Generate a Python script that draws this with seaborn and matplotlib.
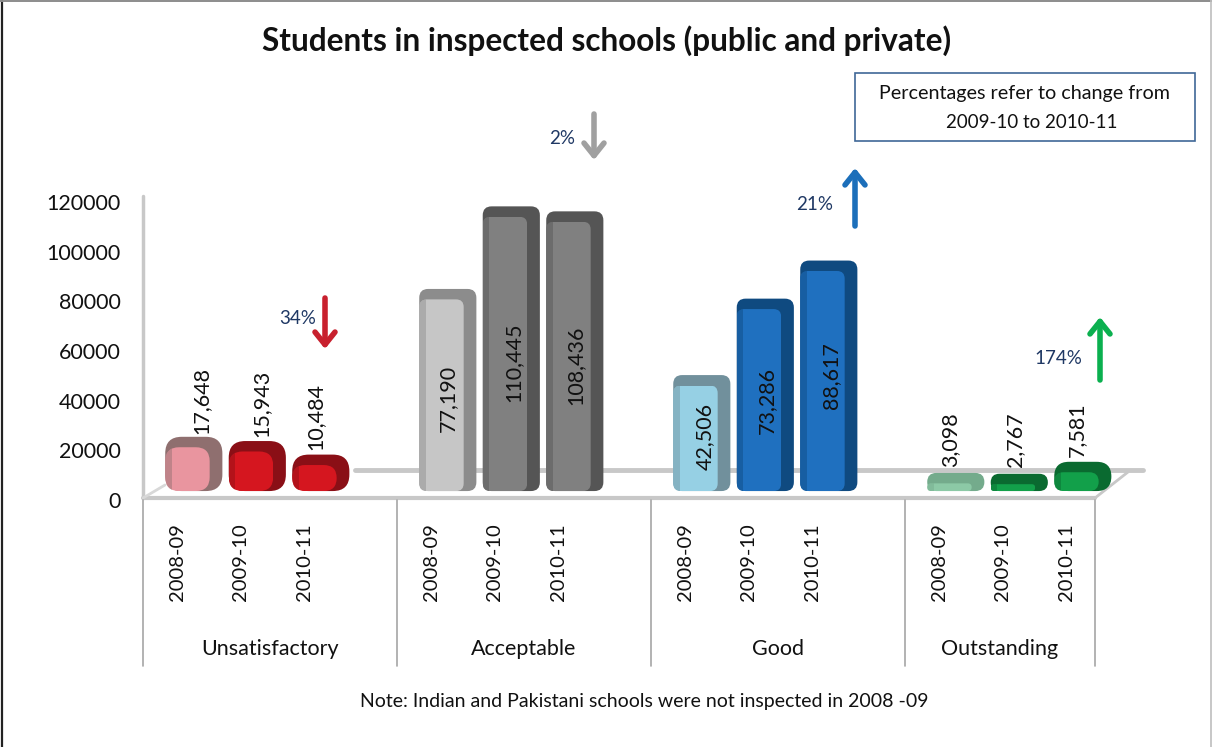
import pandas as pd
import matplotlib
matplotlib.use("Agg")
import matplotlib.pyplot as plt
import seaborn as sns
from matplotlib.lines import Line2D
from matplotlib.patches import FancyBboxPatch, Rectangle

# Chart values
years = ["2008-09", "2009-10", "2010-11"]
ratings = ["Unsatisfactory", "Acceptable", "Good", "Outstanding"]
unsatisfactory = [17648, 15943, 10484]
acceptable = [77190, 110445, 108436]
good = [42506, 73286, 88617]
outstanding = [3098, 2767, 7581]
change_labels = ["34%", "2%", "21%", "174%"]

face_colors = ["#e9959f", "#d5161f", "#d5161f",
               "#c6c6c6", "#808080", "#808080",
               "#96d0e4", "#1f70bf", "#1f70bf",
               "#8cc9a6", "#12a04a", "#12a04a"]
side_colors = ["#8f6f6f", "#8a0f16", "#8a0f16",
               "#8c8c8c", "#555555", "#555555",
               "#71909c", "#0f4a80", "#0f4a80",
               "#74ab8c", "#0a6a30", "#0a6a30"]

W, H = 1212, 747
sns.set_theme(style="white")
plt.rcParams["font.family"] = ["Lato", "DejaVu Sans"]
plt.rcParams["text.color"] = "#111111"

fig = plt.figure(figsize=(W / 100, H / 100), dpi=100, facecolor="white")


def fx(x):
    return x / W


def fy(y):
    return 1 - y / H


# axes box in pixels of the picture
left, right, top, bottom = 143, 1143, 202, 500
slot_px = 63.5
ax = fig.add_axes([fx(left), fy(bottom), fx(right - left), fy(top) - fy(bottom)])
ax.patch.set_alpha(0)

rows = []
order = []
for r, vals in zip(ratings, [unsatisfactory, acceptable, good, outstanding]):
    for y, v in zip(years, vals):
        rows.append({"slot": r + " " + y, "students": v})
        order.append(r + " " + y)
    order.append(r + " gap")
order = order[:-1]
df = pd.DataFrame(rows)

sns.barplot(data=df, x="slot", y="students", order=order, hue="slot",
            hue_order=list(df["slot"]), palette=face_colors, legend=False,
            width=0.9, saturation=1, linewidth=0, ax=ax, zorder=4)

depth = 0.3  # bars sit to the right of their slot, 3D look
ax.set_xlim(-0.5 - depth, -0.5 - depth + (right - left) / slot_px)
ax.set_ylim(0, 120000)
ax.set_yticks(range(0, 120001, 20000))
ax.tick_params(axis="y", length=0, pad=16, labelsize=15.5, labelcolor="#111111")
slots = [i for i, s in enumerate(order) if not s.endswith("gap")]
ax.set_xticks([s - depth + 0.04 for s in slots], labels=years * 4, rotation=90)
ax.tick_params(axis="x", length=0, pad=17, labelsize=14.5, labelcolor="#111111")
ax.set_xlabel("")
ax.set_ylabel("")
sns.despine(ax=ax, left=True, bottom=True)

# fake 3D on each bar
base = 3600
cap = 4200
side = 0.2
aspect = (120000 / (bottom - top)) * slot_px
bars = sorted(ax.patches, key=lambda p: p.get_x())
for p, c_side, c_face in zip(bars, side_colors, face_colors):
    x, w, h = p.get_x(), p.get_width(), p.get_height()
    rmax = 0.14 if h > 30000 else 0.26
    round_full = min(rmax, (h + cap) / aspect / 2)
    back = FancyBboxPatch((x, base), w, h + cap,
                          boxstyle=f"round,pad=0,rounding_size={round_full}",
                          mutation_aspect=aspect, fc=c_side, ec="none", zorder=3)
    ax.add_patch(back)
    p.set_y(base)
    p.set_width(w - side)
    round_face = min(0.12 if h > 30000 else 0.22, h / aspect / 2)
    face = FancyBboxPatch((x, base), w - side, h,
                          boxstyle=f"round,pad=0,rounding_size={round_face}",
                          mutation_aspect=aspect, transform=ax.transData)
    p.set_clip_path(face)
    strip = Rectangle((x, base), 0.1, h, fc=c_side, ec="none", alpha=0.45, zorder=5)
    ax.add_patch(strip)
    strip.set_clip_path(face)

# walls and floor, behind the bars
grey = "#c8c8c8"
fig.add_artist(Line2D([fx(355), fx(1143)], [fy(470), fy(470)], color=grey, lw=3.5, zorder=-1))
fig.add_artist(Line2D([fx(143), fx(143)], [fy(196), fy(498)], color=grey, lw=2.5, zorder=-1))
fig.add_artist(Line2D([fx(143), fx(1095)], [fy(498), fy(498)], color="#c8c8c8", lw=3, zorder=-1))
fig.add_artist(Line2D([fx(143), fx(165)], [fy(498), fy(485)], color="#d8d8d8", lw=2, zorder=-1))
fig.add_artist(Line2D([fx(1095), fx(1128)], [fy(498), fy(472)], color=grey, lw=2, zorder=-1))

# multi level axis lines
for sx in [143, 397, 651, 905, 1095]:
    fig.add_artist(Line2D([fx(sx), fx(sx)], [fy(500), fy(666)], color="#a6a6a6", lw=1.2))
for name, cx in zip(ratings, [270, 524, 778, 1000]):
    fig.text(fx(cx), fy(649), name, ha="center", va="center", fontsize=15.5)

# value labels
values = unsatisfactory + acceptable + good + outstanding
label_x = [201, 261, 315, 448, 513, 575, 705, 767, 831, 950, 1015, 1077]
label_y = [401, 403, 416, 398, 362, 365, 437, 400, 376, 440, 440, 430]
for v, lx, ly in zip(values, label_x, label_y):
    fig.text(fx(lx), fy(ly), f"{v:,}", rotation=90, ha="center", va="center",
             fontsize=15.5, color="#111111", zorder=10)

# change arrows
arrow_ax = fig.add_axes([0, 0, 1, 1], zorder=6)
arrow_ax.set_xlim(0, W)
arrow_ax.set_ylim(H, 0)
arrow_ax.axis("off")
arrows = [(325, 298, 349, "#c8202e"), (594, 114, 160, "#a0a0a0"),
          (855, 226, 168, "#1c6fba"), (1100, 380, 317, "#0bb04f")]
text_pos = [(298, 318), (562, 139), (815, 205), (1058, 358)]
for (ax_x, y0, y1, col), lab, (tx, ty) in zip(arrows, change_labels, text_pos):
    arrow_ax.annotate("", xy=(ax_x, y1), xytext=(ax_x, y0),
                      arrowprops=dict(arrowstyle="->,head_length=0.45,head_width=0.36",
                                      mutation_scale=20, lw=4, color=col,
                                      shrinkA=0, shrinkB=0))
    arrow_ax.text(tx, ty, lab, ha="center", va="center", fontsize=13.5, color="#1f3864")

# note box
arrow_ax.add_patch(Rectangle((855, 73), 340, 68, fc="white", ec="#3f6797", lw=1.2))
arrow_ax.text(1024.5, 93, "Percentages refer to change from", ha="center", va="center", fontsize=14.2)
arrow_ax.text(1032, 122, "2009-10 to 2010-11", ha="center", va="center", fontsize=13.5)

# title, footnote, frame
fig.text(fx(607), fy(41), "Students in inspected schools (public and private)",
         ha="center", va="center", fontsize=22.7, fontweight="bold", color="#111111")
fig.text(fx(644), fy(702), "Note: Indian and Pakistani schools were not inspected in 2008 -09",
         ha="center", va="center", fontsize=14, color="#111111")
fig.add_artist(Line2D([fx(2.5), fx(2.5)], [fy(0), fy(747)], color="#222222", lw=1.6))
fig.add_artist(Line2D([fx(0), fx(1212)], [fy(0.8), fy(0.8)], color="#8c8c8c", lw=1.4))
fig.add_artist(Line2D([fx(1211), fx(1211)], [fy(0), fy(747)], color="#bdbdbd", lw=1.2))

fig.savefig("out.png", dpi=100, facecolor="white")
